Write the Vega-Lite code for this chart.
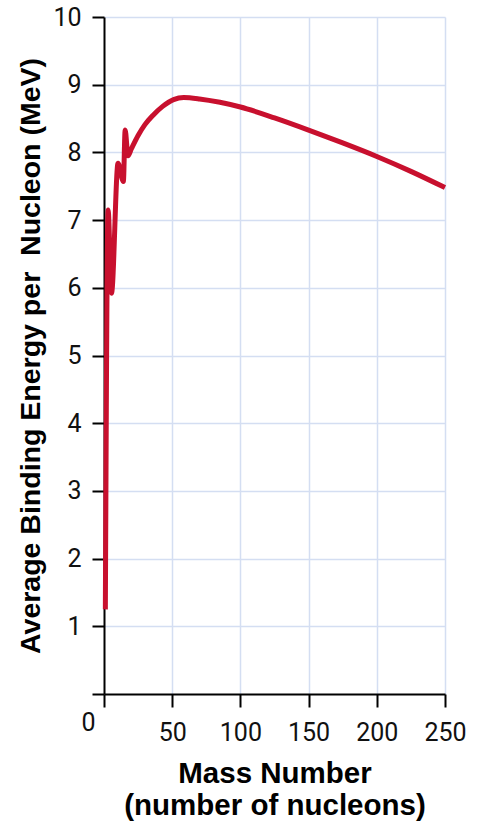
{
  "$schema": "https://vega.github.io/schema/vega-lite/v6.json",
  "autosize": "none",
  "width": 341,
  "height": 677,
  "padding": {"left": 104, "top": 17, "right": 47, "bottom": 129},
  "background": "white",
  "config": {"view": {"stroke": null}},
  "data": {"values": [
    {"A": 1, "BE": 1.25},
    {"A": 3, "BE": 7.15},
    {"A": 5.5, "BE": 5.92},
    {"A": 10.3, "BE": 7.84},
    {"A": 14.2, "BE": 7.57},
    {"A": 15.5, "BE": 8.33},
    {"A": 17.6, "BE": 7.95},
    {"A": 20, "BE": 8.05},
    {"A": 25, "BE": 8.25},
    {"A": 30, "BE": 8.41},
    {"A": 36, "BE": 8.55},
    {"A": 43, "BE": 8.68},
    {"A": 51, "BE": 8.78},
    {"A": 58.5, "BE": 8.81},
    {"A": 70, "BE": 8.79},
    {"A": 85, "BE": 8.74},
    {"A": 100, "BE": 8.67},
    {"A": 125, "BE": 8.51},
    {"A": 150, "BE": 8.33},
    {"A": 175, "BE": 8.14},
    {"A": 200, "BE": 7.94},
    {"A": 225, "BE": 7.72},
    {"A": 250, "BE": 7.48}
  ]},
  "mark": {"type": "line", "color": "#c8102e", "strokeWidth": 5, "interpolate": "monotone", "clip": false},
  "encoding": {
    "x": {
      "field": "A",
      "type": "quantitative",
      "scale": {"domain": [0, 250], "nice": false, "zero": false},
      "axis": {
        "values": [0, 50, 100, 150, 200, 250],
        "title": ["Mass Number", "(number of nucleons)"],
        "titleFont": "Liberation Sans",
        "titleFontWeight": "bold",
        "titleFontSize": 29.5,
        "titleLineHeight": 32,
        "titleColor": "black",
        "titlePadding": 14,
        "domainColor": "black",
        "domainWidth": 2,
        "tickColor": "black",
        "tickWidth": 2,
        "tickSize": 13,
        "labelFont": "Roboto",
        "labelFontSize": 25,
        "labelColor": "#111",
        "labelPadding": {"condition": {"test": "datum.value === 0", "value": 3}, "value": 13},
        "labelOffset": {"condition": {"test": "datum.value === 0", "value": -16}, "value": 0},
        "labelFlush": false,
        "labelOverlap": false,
        "grid": true,
        "gridColor": "#d4def2",
        "gridWidth": 1.5,
        "gridOpacity": {"condition": {"test": "datum.value === 0", "value": 0}, "value": 1}
      }
    },
    "y": {
      "field": "BE",
      "type": "quantitative",
      "scale": {"domain": [0, 10], "nice": false},
      "axis": {
        "values": [0, 1, 2, 3, 4, 5, 6, 7, 8, 9, 10],
        "labelExpr": "datum.value === 0 ? '' : datum.label",
        "title": "Average Binding Energy per\u00a0 Nucleon (MeV)",
        "titleFont": "Liberation Sans",
        "titleFontWeight": "bold",
        "titleFontSize": 28.5,
        "titleColor": "black",
        "titlePadding": 7,
        "domainColor": "black",
        "domainWidth": 2,
        "tickColor": "black",
        "tickWidth": 2,
        "tickSize": 12,
        "labelFont": "Roboto",
        "labelFontSize": 25,
        "labelColor": "#111",
        "labelPadding": 11,
        "grid": true,
        "gridColor": "#d4def2",
        "gridWidth": 1.5,
        "gridOpacity": {"condition": {"test": "datum.value === 0", "value": 0}, "value": 1}
      }
    }
  }
}
